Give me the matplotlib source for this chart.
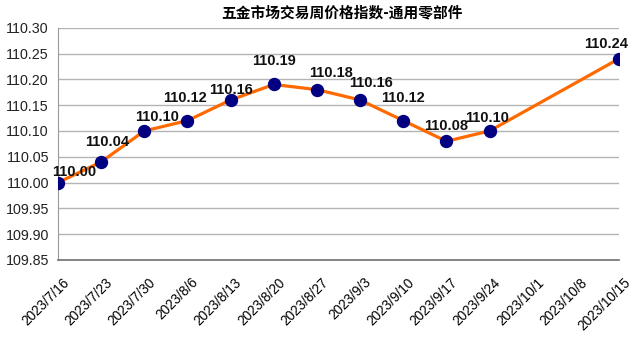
import numpy as np
import matplotlib
matplotlib.use('Agg')
import matplotlib.pyplot as plt
import matplotlib.transforms as mtransforms

plt.rcParams['font.family'] = ['Liberation Sans', 'Noto Sans CJK SC', 'DejaVu Sans']

# data
dates = ['2023/7/16', '2023/7/23', '2023/7/30', '2023/8/6', '2023/8/13', '2023/8/20',
         '2023/8/27', '2023/9/3', '2023/9/10', '2023/9/17', '2023/9/24', '2023/10/1',
         '2023/10/8', '2023/10/15']
values = [110.00, 110.04, 110.10, 110.12, 110.16, 110.19, 110.18, 110.16, 110.12,
          110.08, 110.10, np.nan, np.nan, 110.24]
title = '五金市场交易周价格指数-通用零部件'

# label offsets in pixels (dx, dy)
label_offsets = [(16, 11), (6, 20), (13, 14), (-2, 23), (0, 10), (0, 23), (14, 17),
                 (11, 17), (0, 23), (0, 15), (-3, 13), (0, 0), (0, 0), (-13, 15)]

fig = plt.figure(figsize=(6.33, 3.45), dpi=100)
ax = fig.add_axes([0.0916, 0.2464, 0.8864, 0.6733])

x = np.arange(len(dates))
vals = np.array(values)
ok = ~np.isnan(vals)

ax.plot(x[ok], vals[ok], color='#FF6A00', lw=2.3, zorder=3)
ax.plot(x[ok], vals[ok], 'o', color='#000080', markersize=8.6, zorder=4)

for i in x[ok]:
    dx, dy = label_offsets[i]
    ax.annotate(f'{vals[i]:.2f}', (x[i], vals[i]), xytext=(dx, dy),
                textcoords='offset pixels', ha='center', va='center',
                fontsize=10.5, fontweight='bold', color='#111111', zorder=5)

ax.set_xlim(0, len(dates) - 1)
ax.set_ylim(109.85, 110.30)
ax.set_yticks(np.arange(109.85, 110.301, 0.05))
ax.set_yticklabels([f'{v:.2f}' for v in np.arange(109.85, 110.301, 0.05)], fontsize=10.3, color='#222222')
ax.set_xticks(x)
ax.set_xticklabels(dates, rotation=45, ha='right', va='top', rotation_mode='anchor', fontsize=9.8)
ax.tick_params(axis='y', length=0, pad=6.5)
ax.tick_params(axis='x', length=0, pad=11)
shift = mtransforms.ScaledTranslation(4 / 100, 0, fig.dpi_scale_trans)
for lbl in ax.get_xticklabels():
    lbl.set_transform(lbl.get_transform() + shift)

ax.yaxis.grid(True, color='#b4b4b4', lw=1)
ax.set_axisbelow(True)
for s in ['top', 'right']:
    ax.spines[s].set_visible(False)
ax.spines['left'].set_color('#999999')
ax.spines['bottom'].set_color('#707070')
ax.spines['bottom'].set_linewidth(1.2)

fig.text(0.54, 0.963, title, ha='center', va='center', fontsize=10.6, fontweight='bold',
         family=['Noto Sans CJK SC', 'DejaVu Sans'])

fig.savefig('out.png', dpi=100, facecolor='white')
